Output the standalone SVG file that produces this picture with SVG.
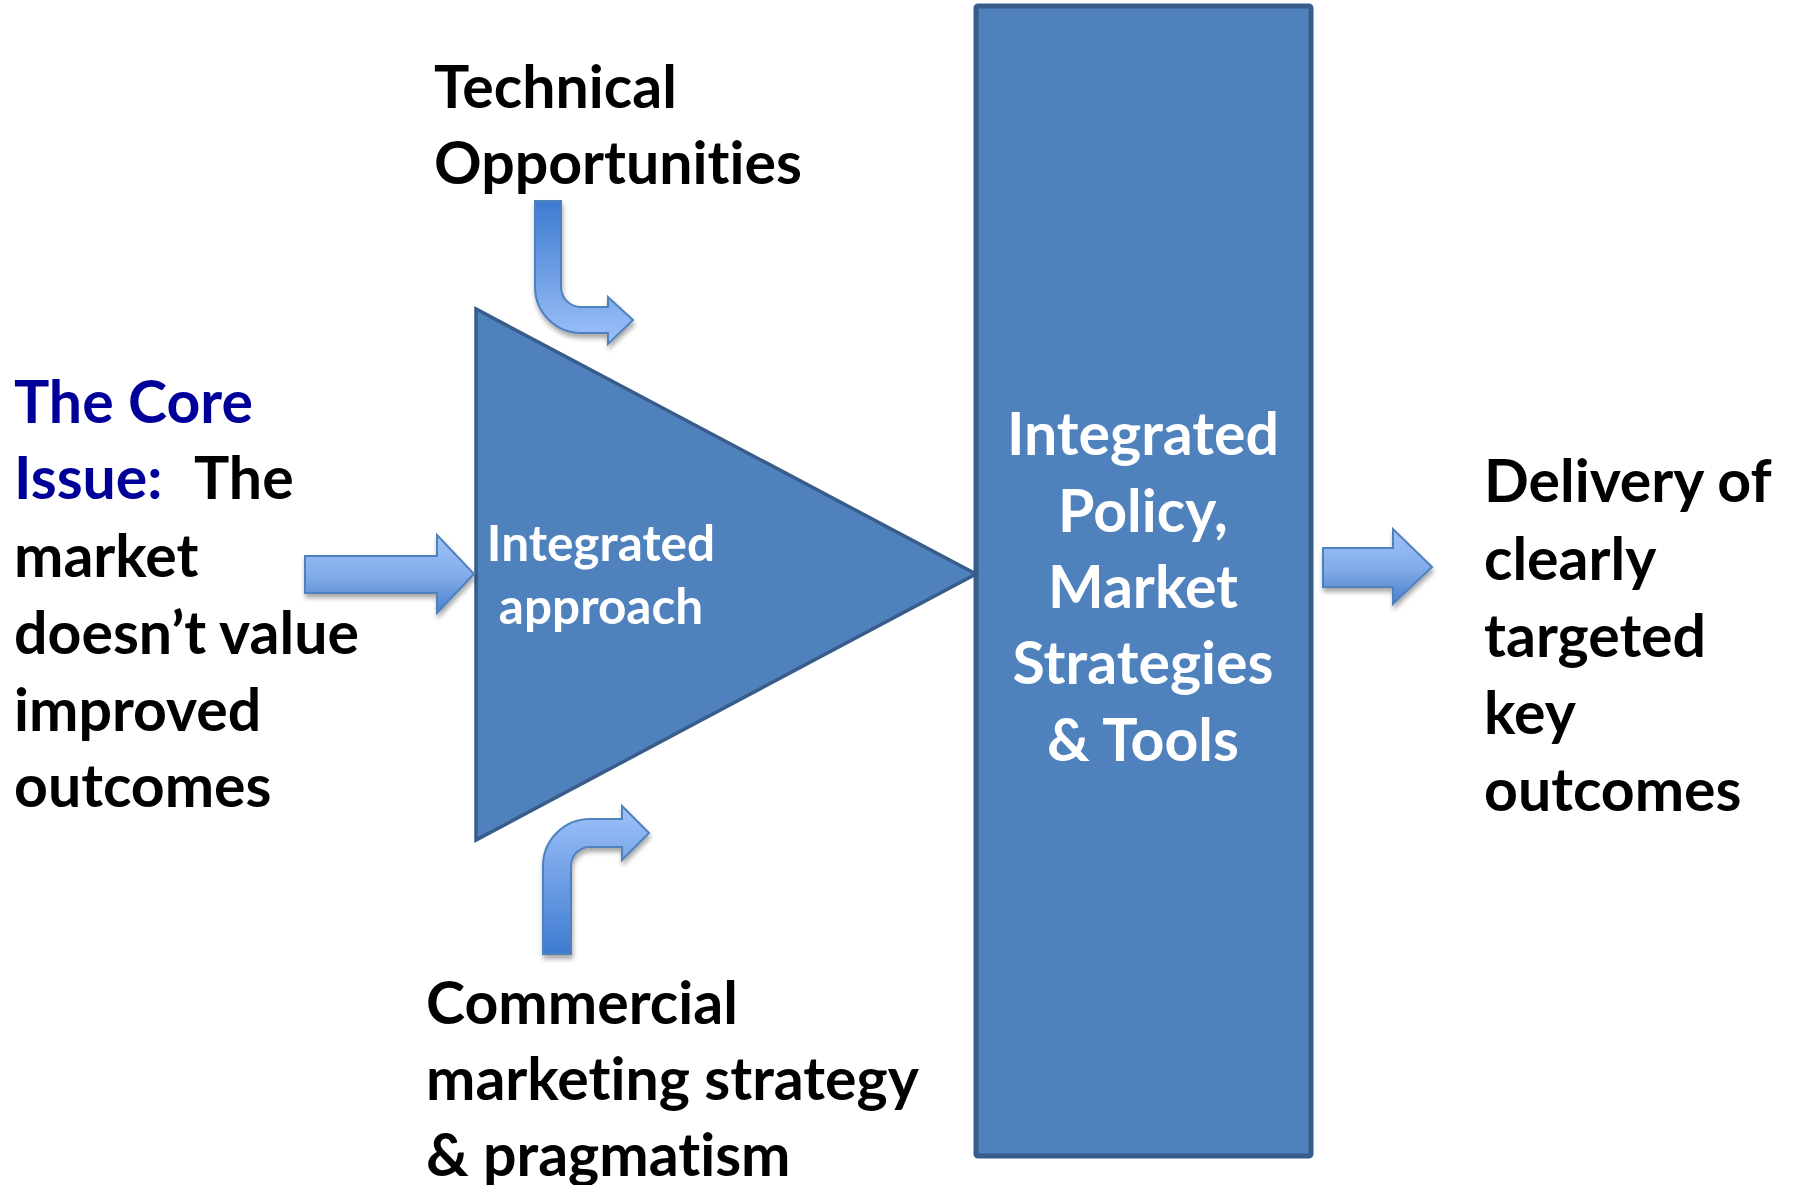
<svg xmlns="http://www.w3.org/2000/svg" width="1794" height="1185" viewBox="0 0 1794 1185">
<style>
.t{font-family:Lato,"Open Sans","Liberation Sans",sans-serif;font-weight:bold;font-size:59px;fill:#000;font-variant-ligatures:none}
.blue{fill:#000099}
.w{fill:#fff;text-anchor:middle}
.arr{stroke:#4F81BD;stroke-width:2;stroke-linejoin:miter;filter:url(#sh)}
</style>
<defs>
<linearGradient id="gDown" x1="0" y1="0" x2="0" y2="1">
<stop offset="0" stop-color="#9EC2FA"/><stop offset="0.5" stop-color="#84AEEA"/><stop offset="1" stop-color="#4B80CE"/>
</linearGradient>
<linearGradient id="gTopBend" gradientUnits="userSpaceOnUse" x1="0" y1="201" x2="0" y2="345">
<stop offset="0" stop-color="#3E7BD0"/><stop offset="1" stop-color="#9EC2FA"/>
</linearGradient>
<linearGradient id="gBotBend" gradientUnits="userSpaceOnUse" x1="0" y1="806" x2="0" y2="954">
<stop offset="0" stop-color="#9EC2FA"/><stop offset="1" stop-color="#3E7BD0"/>
</linearGradient>
<filter id="sh" x="-20%" y="-20%" width="150%" height="150%">
<feGaussianBlur in="SourceAlpha" stdDeviation="2.5"/>
<feOffset dx="1" dy="4" result="b"/>
<feComponentTransfer><feFuncA type="linear" slope="0.35"/></feComponentTransfer>
<feMerge><feMergeNode/><feMergeNode in="SourceGraphic"/></feMerge>
</filter>
</defs>
<rect width="1794" height="1185" fill="#fff"/>

<g id="rect-integrated-policy">
<rect x="976" y="6" width="335" height="1150" rx="2" fill="#4F81BD" stroke="#385D8A" stroke-width="5"/>
<text class="t w" x="1143" y="455">Integrated</text>
<text class="t w" x="1143" y="532">Policy,</text>
<text class="t w" x="1143" y="608">Market</text>
<text class="t w" x="1143" y="684">Strategies</text>
<text class="t w" x="1143" y="761">&amp; Tools</text>
</g>

<g id="triangle-integrated-approach">
<polygon points="476,309 476,840 976,574" fill="#4F81BD" stroke="#385D8A" stroke-width="3.5" stroke-linejoin="miter"/>
<text class="t w" x="601" y="561" style="font-size:49.5px">Integrated</text>
<text class="t w" x="601" y="624" style="font-size:49.5px">approach</text>
</g>

<g id="core-issue">
<text class="t blue" x="14" y="423">The Core</text>
<text class="t blue" x="14" y="499">Issue:</text>
<text class="t" x="194" y="499">The</text>
<text class="t" x="14" y="577">market</text>
<text class="t" x="14" y="654">doesn’t value</text>
<text class="t" x="14" y="731">improved</text>
<text class="t" x="14" y="807">outcomes</text>
</g>

<g id="technical-opportunities">
<text class="t" x="434" y="108">Technical</text>
<text class="t" x="434" y="184">Opportunities</text>
</g>

<g id="commercial-marketing">
<text class="t" x="426" y="1024">Commercial</text>
<text class="t" x="426" y="1100">marketing strategy</text>
<text class="t" x="426" y="1176">&amp; pragmatism</text>
</g>

<g id="delivery">
<text class="t" x="1484" y="502">Delivery of</text>
<text class="t" x="1484" y="580">clearly</text>
<text class="t" x="1484" y="657">targeted</text>
<text class="t" x="1484" y="734">key</text>
<text class="t" x="1484" y="811">outcomes</text>
</g>

<g id="connectors">
<path class="arr" fill="url(#gTopBend)" d="M535 201 L561 201 L561 287 A20 20 0 0 0 581 307 L608 307 L608 297 L633 320 L608 344 L608 333 L581 333 A46 46 0 0 1 535 287 Z"/>
<path class="arr" fill="url(#gBotBend)" d="M543 954 L543 866 A47 47 0 0 1 590 819 L622 819 L622 806 L649 833 L622 860 L622 847 L590 847 A19 19 0 0 0 571 866 L571 954 Z"/>
<path class="arr" fill="url(#gDown)" d="M305 556 L437 556 L437 535 L474 574 L437 613 L437 593 L305 593 Z"/>
<path class="arr" fill="url(#gDown)" d="M1323 548 L1393 548 L1393 529 L1432 567 L1393 604 L1393 587 L1323 587 Z"/>
</g>
</svg>
